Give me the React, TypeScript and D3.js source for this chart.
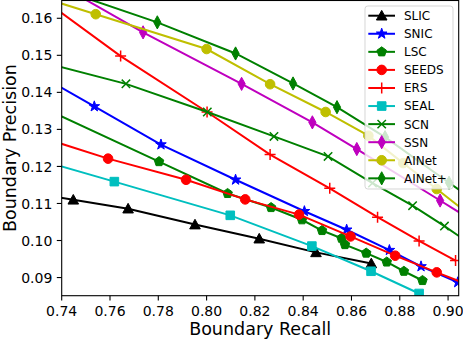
import React from 'react'
import * as d3 from 'd3'

const W = 463
const H = 339
const PLOT = { left: 61.7, right: 458.7, top: 0.5, bottom: 295.7 }

const xTicks = [0.74, 0.76, 0.78, 0.8, 0.82, 0.84, 0.86, 0.88, 0.9]
const yTicks = [0.09, 0.1, 0.11, 0.12, 0.13, 0.14, 0.15, 0.16]

// points outside the axes are kept so lines run off the edges like the original
const slicRecall = [0.73, 0.7448, 0.7675, 0.7952, 0.8218, 0.8453, 0.8682]
const slicPrecision = [0.1126, 0.111, 0.1086, 0.1043, 0.1005, 0.0968, 0.0938]

const snicRecall = [0.73, 0.7535, 0.7811, 0.812, 0.8405, 0.858, 0.8757, 0.8888, 0.904]
const snicPrecision = [0.145, 0.1362, 0.1259, 0.1164, 0.1079, 0.1029, 0.0974, 0.093, 0.0887]

const lscRecall = [0.73, 0.7803, 0.8087, 0.8267, 0.8395, 0.8478, 0.8559, 0.8573, 0.8661, 0.8746, 0.8817, 0.8894]
const lscPrecision = [0.1365, 0.1213, 0.1127, 0.1089, 0.1056, 0.1027, 0.1006, 0.0989, 0.0966, 0.0942, 0.0917, 0.0892]

const seedsRecall = [0.73, 0.7592, 0.7915, 0.816, 0.8383, 0.8596, 0.8781, 0.8953, 0.91]
const seedsPrecision = [0.1282, 0.1221, 0.1164, 0.1111, 0.107, 0.1011, 0.0959, 0.0914, 0.0876]

const ersRecall = [0.73, 0.7644, 0.8002, 0.8263, 0.851, 0.8708, 0.888, 0.9031]
const ersPrecision = [0.1662, 0.1498, 0.1347, 0.1232, 0.1141, 0.1063, 0.0999, 0.0946]

const sealRecall = [0.73, 0.7618, 0.8098, 0.8436, 0.8681, 0.888]
const sealPrecision = [0.1219, 0.1159, 0.1068, 0.0985, 0.0917, 0.0857]

const scnRecall = [0.73, 0.7666, 0.8003, 0.8279, 0.8503, 0.8687, 0.8853, 0.8985, 0.91]
const scnPrecision = [0.1485, 0.1423, 0.1347, 0.1281, 0.1227, 0.1155, 0.1094, 0.1039, 0.0987]

const ssnRecall = [0.74, 0.7737, 0.8145, 0.8438, 0.8622, 0.8967, 0.91]
const ssnPrecision = [0.1687, 0.1562, 0.1423, 0.1319, 0.1247, 0.1108, 0.1054]

const ainetRecall = [0.73, 0.7541, 0.8, 0.8263, 0.8493, 0.867, 0.8814, 0.8953, 0.91]
const ainetPrecision = [0.166, 0.1611, 0.1517, 0.1422, 0.1347, 0.1283, 0.1209, 0.1139, 0.1064]

const ainetPlusRecall = [0.74, 0.7796, 0.812, 0.8358, 0.854, 0.8739, 0.9004, 0.91]
const ainetPlusPrecision = [0.1677, 0.1589, 0.1505, 0.1424, 0.136, 0.1279, 0.1156, 0.1112]

const series = [
  { name: 'SLIC', color: '#000000', marker: 'triangle', recall: slicRecall, precision: slicPrecision },
  { name: 'SNIC', color: '#0000ff', marker: 'star', recall: snicRecall, precision: snicPrecision },
  { name: 'LSC', color: '#008000', marker: 'pentagon', recall: lscRecall, precision: lscPrecision },
  { name: 'SEEDS', color: '#ff0000', marker: 'circle', recall: seedsRecall, precision: seedsPrecision },
  { name: 'ERS', color: '#ff0000', marker: 'plus', recall: ersRecall, precision: ersPrecision },
  { name: 'SEAL', color: '#00bfbf', marker: 'square', recall: sealRecall, precision: sealPrecision },
  { name: 'SCN', color: '#008000', marker: 'x', recall: scnRecall, precision: scnPrecision },
  { name: 'SSN', color: '#bf00bf', marker: 'thin_diamond', recall: ssnRecall, precision: ssnPrecision },
  { name: 'AINet', color: '#bfbf00', marker: 'circle', recall: ainetRecall, precision: ainetPrecision },
  { name: 'AINet+', color: '#008000', marker: 'thin_diamond', recall: ainetPlusRecall, precision: ainetPlusPrecision }
]

const polygon = (n: number, r: number, rot = 0) =>
  d3.range(n).map(i => {
    const a = rot + (i * 2 * Math.PI) / n
    return [r * Math.sin(a), -r * Math.cos(a)]
  })

const starPath = () => {
  const pts = d3.range(10).map(i => {
    const r = i % 2 === 0 ? 5.6 : 2.2
    const a = (i * Math.PI) / 5
    return [r * Math.sin(a), -r * Math.cos(a)]
  })
  return 'M' + pts.map(p => p.join(',')).join('L') + 'Z'
}

const markerPaths: Record<string, { d: string; filled: boolean }> = {
  triangle: { d: 'M0,-5.3L5.3,4.3L-5.3,4.3Z', filled: true },
  star: { d: starPath(), filled: true },
  pentagon: { d: 'M' + polygon(5, 5).map(p => p.join(',')).join('L') + 'Z', filled: true },
  circle: { d: d3.symbol(d3.symbolCircle, Math.PI * 4.8 * 4.8)() || '', filled: true },
  plus: { d: 'M-5.5,0H5.5M0,-5.5V5.5', filled: false },
  square: { d: 'M-4.3,-4.3H4.3V4.3H-4.3Z', filled: true },
  x: { d: 'M-4.2,-4.2L4.2,4.2M-4.2,4.2L4.2,-4.2', filled: false },
  thin_diamond: { d: 'M0,-6.6L3.6,0L0,6.6L-3.6,0Z', filled: true }
}

const Marker = ({ type, color, x, y }: { type: string; color: string; x: number; y: number }) => {
  const m = markerPaths[type]
  return (
    <path
      d={m.d}
      transform={`translate(${x},${y})`}
      fill={m.filled ? color : 'none'}
      stroke={color}
      strokeWidth={m.filled ? 1 : 1.5}
    />
  )
}

const App = () => {
  const x = d3.scaleLinear().domain([0.74, 0.9044]).range([PLOT.left, PLOT.right])
  const y = d3.scaleLinear().domain([0.0851, 0.1648]).range([PLOT.bottom, PLOT.top])
  const line = d3
    .line<number>()
    .x(d => d)
    .y(d => d)

  const font = 'DejaVu Sans, sans-serif'

  return (
    <svg
      width={W}
      height={H}
      style={{ position: 'absolute', left: 0, top: 0, background: '#fff' }}
      fontFamily={font}
    >
      <defs>
        <clipPath id="plot-clip">
          <rect x={PLOT.left} y={PLOT.top} width={PLOT.right - PLOT.left} height={PLOT.bottom - PLOT.top} />
        </clipPath>
      </defs>

      <g clipPath="url(#plot-clip)">
        {series.map(s => {
          const pts = s.recall.map((r, i) => [x(r), y(s.precision[i])] as [number, number])
          const path = d3.line()(pts) || ''
          return (
            <g key={s.name}>
              <path d={path} fill="none" stroke={s.color} strokeWidth={2} />
              {pts.map((p, i) => (
                <Marker key={i} type={s.marker} color={s.color} x={p[0]} y={p[1]} />
              ))}
            </g>
          )
        })}
      </g>

      {/* frame */}
      <rect
        x={PLOT.left}
        y={PLOT.top}
        width={PLOT.right - PLOT.left}
        height={PLOT.bottom - PLOT.top}
        fill="none"
        stroke="#000"
        strokeWidth={1.1}
      />

      {/* x axis */}
      {xTicks.map(t => (
        <g key={t}>
          <line x1={x(t)} x2={x(t)} y1={PLOT.bottom} y2={PLOT.bottom + 4.9} stroke="#000" strokeWidth={1.1} />
          <text x={x(t)} y={315.7} fontSize={14} textAnchor="middle">
            {d3.format('.2f')(t)}
          </text>
        </g>
      ))}
      {/* y axis */}
      {yTicks.map(t => (
        <g key={t}>
          <line x1={PLOT.left - 4.9} x2={PLOT.left} y1={y(t)} y2={y(t)} stroke="#000" strokeWidth={1.1} />
          <text x={52.3} y={y(t) + 5.1} fontSize={14} textAnchor="end">
            {d3.format('.2f')(t)}
          </text>
        </g>
      ))}

      <text x={(PLOT.left + PLOT.right) / 2} y={335} fontSize={17.5} textAnchor="middle">
        Boundary Recall
      </text>
      <text transform={`translate(15.5,${(PLOT.top + PLOT.bottom) / 2}) rotate(-90)`} fontSize={17.5} textAnchor="middle">
        Boundary Precision
      </text>

      {/* legend */}
      <rect x={365} y={6} width={88} height={183} rx={2.8} fill="#fff" fillOpacity={0.8} stroke="#cccccc" strokeOpacity={0.8} />
      {series.map((s, i) => {
        const ly = 15.7 + i * 18.07
        return (
          <g key={s.name}>
            <line x1={368.3} x2={395} y1={ly} y2={ly} stroke={s.color} strokeWidth={2} />
            <Marker type={s.marker} color={s.color} x={381.7} y={ly} />
            <text x={404} y={ly + 4.4} fontSize={12}>
              {s.name}
            </text>
          </g>
        )
      })}
    </svg>
  )
}

export default App
